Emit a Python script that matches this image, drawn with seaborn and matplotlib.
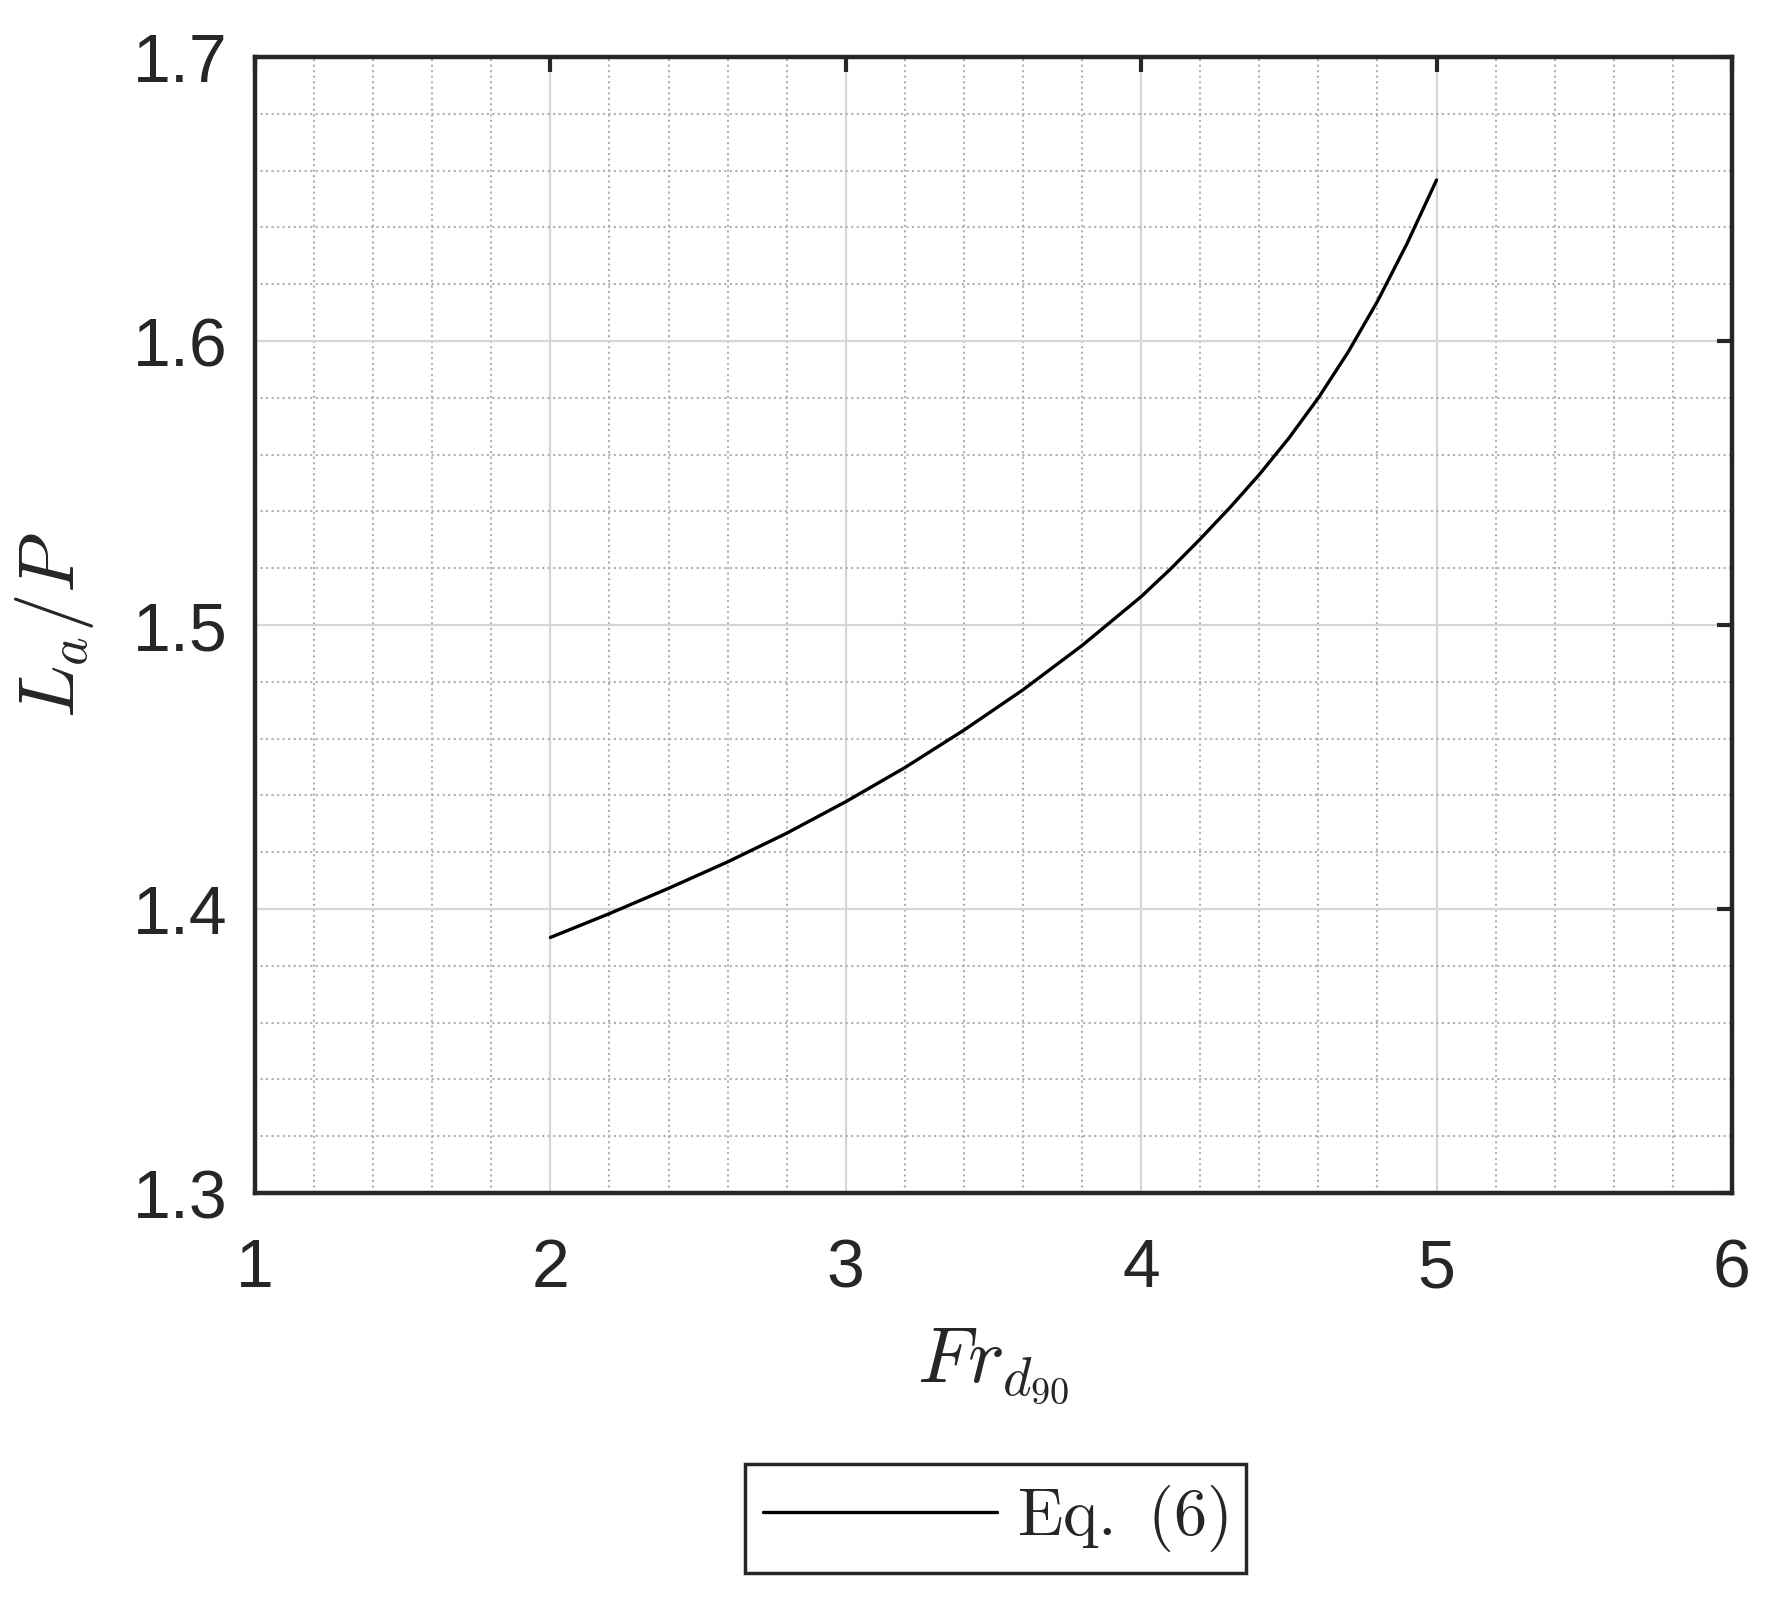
"""
===============================================================================
La/P versus Fr_d90 from Eq. (6)
===============================================================================
"""

import matplotlib.pyplot as plt
import pandas as pd
import seaborn as sns
from matplotlib.ticker import MultipleLocator

# ==============================================================================
# DATA
# ==============================================================================
fr_d90 = [2.0, 2.2, 2.4, 2.6, 2.8, 3.0, 3.2, 3.4, 3.6, 3.8,
          4.0, 4.1, 4.2, 4.3, 4.4, 4.5, 4.6, 4.7, 4.8, 4.9, 5.0]
la_over_p = [1.3900, 1.3984, 1.4073, 1.4166, 1.4267, 1.4378, 1.4498,
             1.4630, 1.4772, 1.4928, 1.5100, 1.5198, 1.5303, 1.5413,
             1.5530, 1.5658, 1.5800, 1.5960, 1.6140, 1.6343, 1.6567]
series_label = r"$\mathrm{Eq.\ (6)}\,$"

x_ticks = [1, 2, 3, 4, 5, 6]
y_ticks = [1.3, 1.4, 1.5, 1.6, 1.7]

df = pd.DataFrame({"Fr": fr_d90, "LaP": la_over_p})

# ==============================================================================
# STYLE
# ==============================================================================
sns.set_style("white")
plt.rcParams["font.family"] = ["Liberation Sans", "DejaVu Sans"]
plt.rcParams["mathtext.fontset"] = "cm"

FRAME = "#262626"

fig = plt.figure(figsize=(17.66, 16.12), dpi=100)
ax = fig.add_axes([0.1444, 0.2599, 0.8363, 0.7047])

# ==============================================================================
# PLOT
# ==============================================================================
sns.lineplot(
    data=df,
    x="Fr",
    y="LaP",
    color="black",
    linewidth=2.4,
    label=series_label,
    ax=ax,
)

ax.set_xlim(1, 6)
ax.set_ylim(1.3, 1.7)
ax.set_xticks(x_ticks)
ax.set_yticks(y_ticks)
ax.set_xticklabels([str(t) for t in x_ticks])
ax.set_yticklabels([f"{t:.1f}" for t in y_ticks])
ax.xaxis.set_minor_locator(MultipleLocator(0.2))
ax.yaxis.set_minor_locator(MultipleLocator(0.02))

# grid, major solid and minor dotted
ax.grid(which="major", color="#d6d6d6", linestyle="-", linewidth=1.6)
ax.grid(which="minor", color="#b0b0b0", linestyle=":", linewidth=1.5)
ax.set_axisbelow(True)

for spine in ax.spines.values():
    spine.set_visible(True)
    spine.set_color(FRAME)
    spine.set_linewidth(3.2)

ax.tick_params(which="major", direction="in", length=11, width=3,
               color=FRAME, labelcolor=FRAME, labelsize=49,
               top=True, right=True)
ax.tick_params(axis="x", which="major", pad=32)
ax.tick_params(axis="y", which="major", pad=20)
ax.tick_params(which="minor", length=0)

ax.set_xlabel(r"$Fr_{d_{90}}$", fontsize=56, color=FRAME, labelpad=18)
ax.set_ylabel(r"$L_a/P$", fontsize=56, color=FRAME, labelpad=26)

# legend below the axes
ax.get_legend().remove()
handles, labels = ax.get_legend_handles_labels()
leg = fig.legend(
    handles,
    labels,
    loc="center",
    bbox_to_anchor=(0.5637, 0.058),
    fontsize=48,
    handlelength=3.5,
    handletextpad=0.3,
    borderpad=0.28,
    fancybox=False,
    framealpha=1,
    edgecolor=FRAME,
)
leg.get_frame().set_linewidth(2.5)

fig.savefig("out.png", dpi=100)
plt.close()
